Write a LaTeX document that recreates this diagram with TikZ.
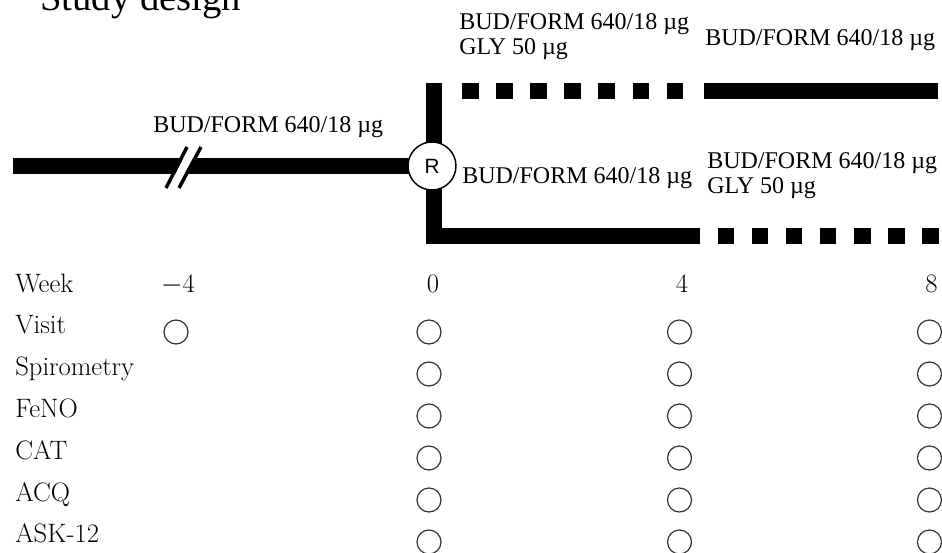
\documentclass[tikz,border=0pt]{standalone}
\usepackage{fontspec}
\newfontfamily\drugfont{Liberation Serif}
\newfontfamily\rfont{Liberation Sans}
\usepackage{tikz}
\usetikzlibrary{positioning, backgrounds}

\begin{document}
\begin{tikzpicture}[
    x=0.75pt, y=-0.75pt,
    bar/.style={line width=12.4pt},
    dashbar/.style={line width=12.4pt, dash pattern=on 12.375pt off 13.2pt, dash phase=12.375pt},
    drug/.style={anchor=base west, inner sep=0pt, align=left, font=\drugfont\fontsize{18}{18.75}\selectfont},
    rnode/.style={circle, draw=black, fill=white, line width=1.1pt, minimum size=36pt, inner sep=0pt, font=\rfont\fontsize{15.5}{18}\selectfont},
    rowlabel/.style={anchor=base west, inner sep=0pt, font=\fontsize{20}{22}\selectfont},
    weeklabel/.style={anchor=base, inner sep=0pt, font=\fontsize{20}{22}\selectfont},
    visit/.style={circle, draw=black!80, line width=0.9pt, minimum size=18pt, inner sep=0pt}
]
    \useasboundingbox (0,0) rectangle (942,553);
    \clip (0,0) rectangle (942,553);

    % --- TITLE (cut at the top) ---
    \node[anchor=base west, inner sep=0pt, font=\drugfont\fontsize{29}{32}\selectfont] (title) at (40,10) {Study design};

    % --- RANDOMISATION AND ARMS ---
    \node[rnode] (R) at (432,166) {R};
    \coordinate (run-in) at (13,166);
    \coordinate (up-corner) at (434,91);
    \coordinate (low-corner) at (434,236);
    \coordinate (up-dash-start) at (444.4,91);
    \coordinate (up-dash-end) at (683.5,91);
    \coordinate (up-solid-start) at (704,91);
    \coordinate (up-solid-end) at (938,91);
    \coordinate (low-solid-end) at (700,236);
    \coordinate (low-dash-end) at (939,236);

    \begin{scope}[on background layer]
        \draw[bar] (run-in) -- (R.center);
        \draw[bar, line cap=rect] (R.center -| up-corner) -- (up-corner);
        \draw[dashbar] (up-dash-start) -- (up-dash-end);
        \draw[bar] (up-solid-start) -- (up-solid-end);
        \draw[bar, line join=miter] (R.center -| low-corner) -- (low-corner) -- (low-solid-end);
        \draw[dashbar] (low-solid-end) -- (low-dash-end);
    \end{scope}

    % break marks on the run-in
    \fill[white] (168,188) -- (189,147) -- (199,147) -- (177,188) -- cycle;
    \draw[line width=2.6pt] (166,188) -- (187,147) (179,188) -- (201,147);

    % --- TREATMENT LABELS ---
    % (base of a two-line node is its last line)
    \node[drug] (pre) at (153,132) {BUD/FORM 640/18 µg};
    \node[drug] (up-trip) at (459,54) {BUD/FORM 640/18 µg\\GLY 50 µg};
    \node[drug] (up-dual) at (705,45) {BUD/FORM 640/18 µg};
    \node[drug] (low-dual) at (462,183) {BUD/FORM 640/18 µg};
    \node[drug] (low-trip) at (707,193) {BUD/FORM 640/18 µg\\GLY 50 µg};

    % --- SCHEDULE TABLE ---
    \foreach \lab [count=\i] in {Week,Visit,Spirometry,FeNO,CAT,ACQ,ASK-12}
        \node[rowlabel] (row-\i) at (15,{292+(\i-1)*41.8}) {\lab};
    \foreach \wk/\xx [count=\j] in {$-$4/178, 0/433, 4/682, 8/931.5}
        \node[weeklabel] (wk-\j) at (\xx,292) {\wk};

    \node[visit] (v-1-2) at (176,332) {};
    \foreach \xx [count=\j from 2] in {429,679.5,929.5}
        \foreach \r in {2,...,7}
            \node[visit] (v-\j-\r) at (\xx,{332+(\r-2)*42}) {};
\end{tikzpicture}
\end{document}
